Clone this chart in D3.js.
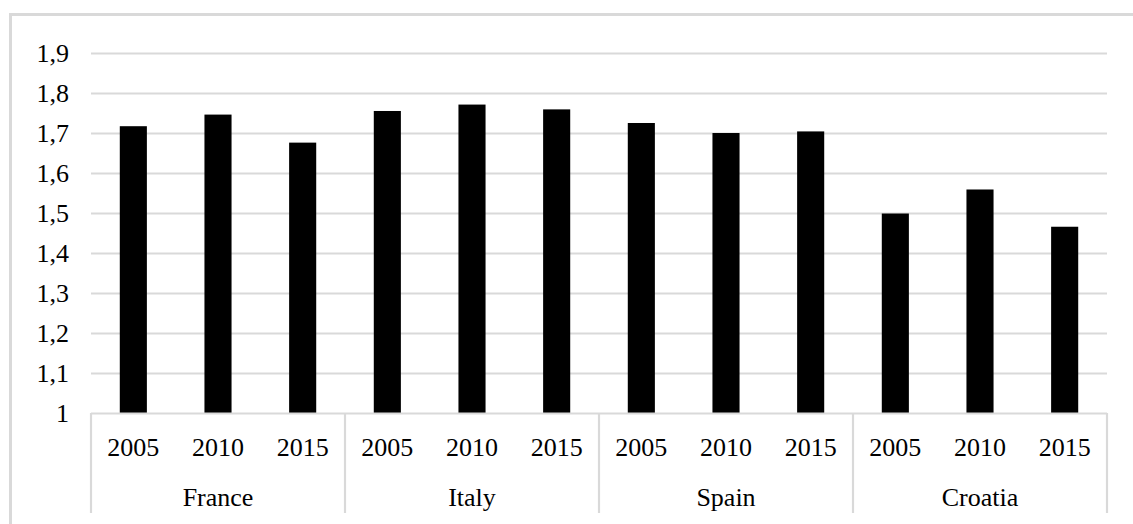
<!DOCTYPE html>
<html>
<head>
<meta charset="utf-8">
<script src="https://cdn.jsdelivr.net/npm/d3@7"></script>
<style>
  html, body { margin: 0; padding: 0; background: #fff; }
  svg { display: block; }
  text { font-family: "Liberation Serif", "Times New Roman", serif; fill: #000; }
</style>
</head>
<body>
<svg id="chart" width="1133" height="524"></svg>
<script>
// Chart data
const countries = ["France", "Italy", "Spain", "Croatia"];
const years = ["2005", "2010", "2015"];
const franceValues = [1.716, 1.745, 1.675];
const italyValues = [1.754, 1.770, 1.758];
const spainValues = [1.724, 1.699, 1.703];
const croatiaValues = [1.498, 1.558, 1.465];
const yTicks = [1, 1.1, 1.2, 1.3, 1.4, 1.5, 1.6, 1.7, 1.8, 1.9];

const seriesByCountry = [franceValues, italyValues, spainValues, croatiaValues];
const rows = [];
countries.forEach((c, i) => {
  years.forEach((y, j) => rows.push({ country: c, year: y, key: c + "-" + y, value: seriesByCountry[i][j] }));
});

const svg = d3.select("#chart");
const W = 1133, H = 524;
const plotLeft = 91, plotRight = 1107, plotTop = 52.5, axisY = 413;
const gridColor = "#d9d9d9";

// outer frame
svg.append("rect")
  .attr("x", 10.5).attr("y", 14.5)
  .attr("width", W + 20).attr("height", H + 20)
  .attr("fill", "none").attr("stroke", gridColor).attr("stroke-width", 3);

const y = d3.scaleLinear().domain([1, 1.9]).range([axisY, plotTop]);
const xGroup = d3.scaleBand().domain(countries).range([plotLeft, plotRight]).padding(0);
const xInner = d3.scaleBand().domain(years).range([0, xGroup.bandwidth()]).paddingInner(0.68).paddingOuter(0.34);

// gridlines
svg.append("g").selectAll("line")
  .data(yTicks.filter(t => t > 1))
  .join("line")
  .attr("x1", plotLeft).attr("x2", plotRight)
  .attr("y1", d => Math.round(y(d)) + 0.5).attr("y2", d => Math.round(y(d)) + 0.5)
  .attr("stroke", gridColor).attr("stroke-width", 2.2);

// y axis labels
const fmt = d => d3.format(".1~f")(d).replace(".", ",");
svg.append("g").selectAll("text")
  .data(yTicks)
  .join("text")
  .attr("x", 69).attr("y", d => y(d) + 9)
  .attr("text-anchor", "end")
  .attr("font-size", 26)
  .text(fmt);

// bars
svg.append("g").selectAll("rect")
  .data(rows)
  .join("rect")
  .attr("x", d => xGroup(d.country) + xInner(d.year))
  .attr("width", xInner.bandwidth())
  .attr("y", d => y(d.value))
  .attr("height", d => y(1) - y(d.value))
  .attr("fill", "#000");

// category axis: baseline and group separators
svg.append("line")
  .attr("x1", plotLeft).attr("x2", plotRight)
  .attr("y1", axisY + 0.5).attr("y2", axisY + 0.5)
  .attr("stroke", gridColor).attr("stroke-width", 2.2);

const seps = countries.map(c => xGroup(c)).concat([plotRight]);
svg.append("g").selectAll("line")
  .data(seps)
  .join("line")
  .attr("x1", d => d).attr("x2", d => d)
  .attr("y1", axisY).attr("y2", 513)
  .attr("stroke", gridColor).attr("stroke-width", 2.2);

// year labels
svg.append("g").selectAll("text")
  .data(rows)
  .join("text")
  .attr("x", d => xGroup(d.country) + xInner(d.year) + xInner.bandwidth() / 2)
  .attr("y", 456)
  .attr("text-anchor", "middle")
  .attr("font-size", 26)
  .text(d => d.year);

// country labels
svg.append("g").selectAll("text")
  .data(countries)
  .join("text")
  .attr("x", d => xGroup(d) + xGroup.bandwidth() / 2)
  .attr("y", 506)
  .attr("text-anchor", "middle")
  .attr("font-size", 26)
  .text(d => d);
</script>
</body>
</html>
